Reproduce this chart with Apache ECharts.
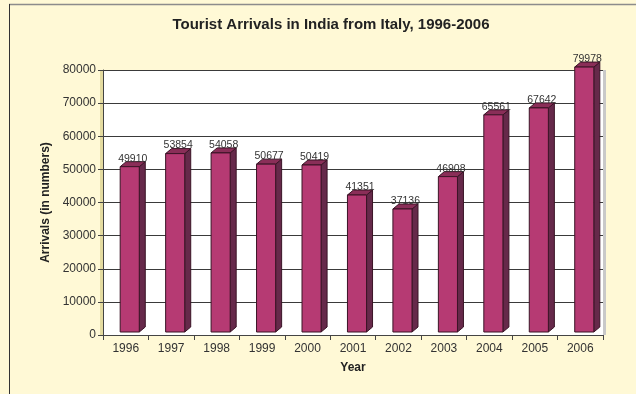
<!DOCTYPE html>
<html>
<head>
<meta charset="utf-8">
<script src="https://cdn.jsdelivr.net/npm/echarts@6/dist/echarts.min.js"></script>
<style>
html,body{margin:0;padding:0;background:#FFF9D6;}
#chart{width:636px;height:394px;}
</style>
</head>
<body>
<div id="chart"></div>
<script>
const years = ['1996','1997','1998','1999','2000','2001','2002','2003','2004','2005','2006'];
const arrivals = [49910, 53854, 54058, 50677, 50419, 41351, 37136, 46908, 65561, 67642, 79978];
const yTicks = [0, 10000, 20000, 30000, 40000, 50000, 60000, 70000, 80000];

const FRONT = '#B63A73';
const SIDE = '#66294A';
const TOP = '#8A2E58';
const EDGE = '#3A1426';

const chart = echarts.init(document.getElementById('chart'), null, {renderer: 'canvas'});

function renderBar(params, api) {
  const idx = api.value(0);
  const v = api.value(1);
  const p = api.coord([idx, v]);
  const p0 = api.coord([idx, 0]);
  const band = api.size([1, 0])[0];
  const bw = band * 0.42;
  const dx = 6, dy = 5, off = 4, lift = 3;
  const left = p[0] + off - bw / 2;
  const right = left + bw;
  const top = p[1] - lift;
  const bottom = p0[1] - lift;
  return {
    type: 'group',
    children: [
      {type: 'polygon', shape: {points: [[right, top], [right + dx, top - dy], [right + dx, bottom - dy], [right, bottom]]},
       style: {fill: SIDE, stroke: EDGE, lineWidth: 1}},
      {type: 'polygon', shape: {points: [[left, top], [left + dx, top - dy], [right + dx, top - dy], [right, top]]},
       style: {fill: TOP, stroke: EDGE, lineWidth: 1}},
      {type: 'rect', shape: {x: left, y: top, width: bw, height: bottom - top},
       style: {fill: FRONT, stroke: EDGE, lineWidth: 1}},
      {type: 'text', z2: 10, style: {text: String(v), x: left + bw / 2 + 3, y: top - dy + 2.5,
        align: 'center', verticalAlign: 'bottom', fontSize: 10.5, fontFamily: 'Liberation Sans, Arial, sans-serif', fill: '#333'}}
    ]
  };
}

chart.setOption({
  backgroundColor: '#FFF9D6',
  animation: false,
  title: {
    text: 'Tourist Arrivals in India from Italy, 1996-2006',
    left: 326, top: 12, textAlign: 'center',
    textStyle: {fontFamily: 'Liberation Sans, Arial, sans-serif', fontWeight: 'bold', fontSize: 15, color: '#222'}
  },
  graphic: [
    {type: 'line', shape: {x1: 9, y1: 4.5, x2: 636, y2: 4.5}, style: {stroke: '#8C8C8C', lineWidth: 1.5}, z: 10},
    {type: 'line', shape: {x1: 9.5, y1: 4, x2: 9.5, y2: 394}, style: {stroke: '#333', lineWidth: 1}, z: 10},
    {type: 'rect', shape: {x: 100, y: 70, width: 3, height: 265}, style: {fill: '#E4DBA0'}, z: 0},
    {type: 'rect', shape: {x: 603, y: 70, width: 3, height: 265}, style: {fill: '#C9C9C9'}, z: 0}
  ],
  grid: {left: 103, right: 33, top: 70, bottom: 59, show: true, backgroundColor: '#FFFFFF', borderWidth: 0},
  xAxis: {
    type: 'category', data: years, boundaryGap: true,
    name: 'Year', nameLocation: 'middle', nameGap: 27,
    nameTextStyle: {fontFamily: 'Liberation Sans, Arial, sans-serif', fontWeight: 'bold', fontSize: 12, color: '#222'},
    axisLine: {lineStyle: {color: '#444', width: 1}},
    axisTick: {show: true, length: 5, lineStyle: {color: '#444'}},
    axisLabel: {fontFamily: 'Liberation Sans, Arial, sans-serif', fontSize: 12, color: '#333', margin: 8}
  },
  yAxis: {
    type: 'value', min: 0, max: 80000, interval: 10000,
    name: 'Arrivals (in numbers)', nameLocation: 'middle', nameGap: 45, nameRotate: 90,
    nameTextStyle: {fontFamily: 'Liberation Sans, Arial, sans-serif', fontWeight: 'bold', fontSize: 12, color: '#222'},
    axisLine: {show: true, lineStyle: {color: '#444', width: 1}},
    axisTick: {show: true, length: 5, lineStyle: {color: '#444'}},
    axisLabel: {fontFamily: 'Liberation Sans, Arial, sans-serif', fontSize: 12, color: '#333', margin: 7,
      formatter: function (val) { return yTicks.indexOf(val) >= 0 ? String(val) : ''; }},
    splitLine: {show: true, lineStyle: {color: '#3A3A3A', width: 1}}
  },
  series: [{
    type: 'custom',
    renderItem: renderBar,
    data: arrivals.map(function (v, i) { return [i, v]; }),
    encode: {x: 0, y: 1},
    clip: false
  }]
});
</script>
</body>
</html>
